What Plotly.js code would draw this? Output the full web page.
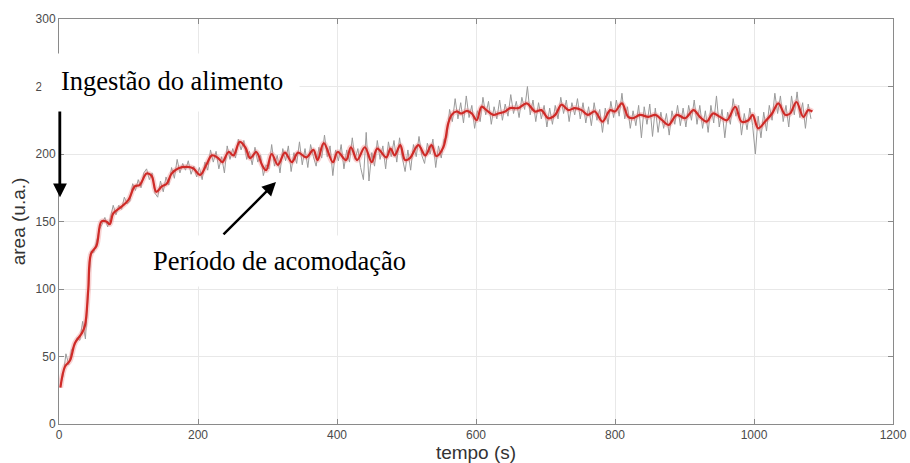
<!DOCTYPE html>
<html>
<head>
<meta charset="utf-8">
<script src="https://cdn.plot.ly/plotly-3.0.1.min.js"></script>
<style>
  html, body { margin: 0; padding: 0; background: #fff; }
  #chart { width: 910px; height: 463px; }
</style>
</head>
<body>
<div id="chart"></div>
<script>
// Raw area signal, one sample every 4 s starting at t = 2 s
const rawStart = 2;
const rawStep = 4;
const rawArea = [
  28, 36, 52, 44, 55, 58, 64, 62, 76, 63, 96, 128, 127, 135, 144, 148, 153, 146, 153, 162, 155, 162, 159, 168, 163,
  165, 178, 173, 181, 175, 186, 189, 181, 186, 171, 168, 180, 172, 183, 177, 190, 182, 196, 186, 193, 188, 195, 185, 191, 183,
  190, 181, 194, 188, 203, 194, 202, 189, 198, 186, 206, 196, 204, 197, 211, 203, 210, 196, 202, 192, 205, 194, 199, 184, 192,
  189, 207, 191, 199, 186, 204, 195, 206, 187, 201, 193, 209, 192, 204, 190, 207, 198, 191, 205, 197, 214, 198, 206, 184, 203,
  195, 207, 189, 203, 194, 212, 196, 204, 190, 181, 216, 180, 201, 191, 210, 196, 206, 189, 209, 198, 210, 194, 212, 197, 187,
  203, 188, 207, 198, 213, 199, 193, 208, 200, 211, 190, 206, 197, 211, 212, 233, 224, 241, 226, 238, 223, 243, 227, 236, 219,
  232, 224, 242, 229, 239, 222, 235, 226, 240, 225, 237, 228, 244, 230, 239, 227, 242, 233, 250, 229, 240, 224, 238, 226, 236,
  220, 234, 222, 236, 226, 242, 230, 240, 224, 238, 229, 241, 226, 238, 223, 235, 221, 238, 225, 233, 216, 234, 222, 239, 227,
  240, 228, 245, 226, 235, 219, 232, 221, 236, 212, 235, 222, 237, 213, 234, 216, 231, 219, 230, 214, 232, 222, 236, 221, 234,
  220, 236, 225, 240, 222, 236, 219, 232, 216, 236, 223, 243, 220, 233, 212, 231, 222, 241, 228, 236, 214, 230, 218, 234, 221,
  200, 228, 212, 231, 217, 236, 225, 245, 230, 243, 224, 236, 220, 243, 229, 246, 227, 238, 219, 237, 226
];

// Filtered (smoothed) area signal
const smoothTime = [
  2, 8.6, 15.8, 23, 32.6, 37.4, 42, 46, 54, 61,
  68, 73, 78, 90, 100, 109, 116, 126, 133, 140,
  148, 155, 162, 172, 184, 193, 203, 212, 220, 229,
  235, 244, 251, 260, 268, 275, 284, 292, 298, 306,
  315, 325, 335, 344, 356, 366, 372, 381, 394, 401,
  413, 420, 429, 440, 450, 458, 471, 477, 483, 491,
  498, 505, 517, 527, 536, 543, 553, 560, 565, 572,
  579, 587, 594, 601, 608, 615, 625, 632, 642, 649,
  661, 673, 685, 694, 704, 714, 723, 733, 742, 752,
  761, 771, 782, 793, 800, 810, 819, 826, 836, 848,
  858, 868, 877, 889, 901, 913, 922, 932, 941, 951,
  961, 973, 982, 992, 998, 1006, 1016, 1026, 1035, 1045,
  1052, 1061, 1071, 1078, 1084
];
const smoothArea = [
  27, 42.5, 47, 60, 67, 73, 99, 126, 132, 150,
  150, 148, 156, 161, 166, 176, 177, 185.5, 184, 172,
  176, 178, 185.5, 189.5, 190.5, 189.5, 184.5, 192, 199, 197,
  194, 201.5, 199, 209, 205, 197, 201.5, 192, 188, 200,
  192, 201, 194, 201, 197.5, 203, 195.5, 208, 194, 201.5,
  195.5, 205, 195.5, 205, 194, 204, 197.5, 204, 199, 206.5,
  195.5, 197, 206.5, 199, 206.5, 198.5, 205, 222.5, 229, 231.5,
  230, 232, 230, 225, 235, 232.5, 229, 230, 231.5, 234,
  234, 237.5, 231.5, 232.5, 226.5, 229, 236.5, 232.5, 234, 232.5,
  229, 231.5, 224, 232.5, 231.5, 237.5, 227.5, 226.5, 229, 227.5,
  229, 225, 221.5, 229, 226.5, 232.5, 227.5, 224, 230, 227.5,
  225, 235, 224, 225, 229, 219, 224, 230, 237.5, 229,
  230, 238.5, 227.5, 232.5, 231.5
];

const xTicks = [0, 200, 400, 600, 800, 1000, 1200];
const yTicks = [0, 50, 100, 150, 200, 250, 300];

const traces = [
  {
    type: 'scatter', mode: 'lines',
    x0: rawStart, dx: rawStep, y: rawArea,
    line: { color: '#9a9a9a', width: 1 },
    hoverinfo: 'skip'
  },
  {
    type: 'scatter', mode: 'lines',
    x: smoothTime, y: smoothArea,
    line: { color: 'rgba(235,130,130,0.35)', width: 5.5, shape: 'spline', smoothing: 1 },
    hoverinfo: 'skip'
  },
  {
    type: 'scatter', mode: 'lines',
    x: smoothTime, y: smoothArea,
    line: { color: '#cf2a27', width: 2.2, shape: 'spline', smoothing: 1 }
  }
];

const axisCommon = {
  showgrid: true,
  gridcolor: '#e8e8e8',
  gridwidth: 1,
  zeroline: false,
  showline: true,
  linecolor: '#8a8a8a',
  linewidth: 1,
  mirror: 'ticks',
  ticks: 'inside',
  ticklen: 5,
  tickcolor: '#8a8a8a',
  tickfont: { family: 'Liberation Sans, Arial, sans-serif', size: 12, color: '#4a4a4a' }
};

const serif = 'Liberation Serif';

const layout = {
  width: 910,
  height: 463,
  margin: { l: 59, r: 17, t: 19, b: 39 },
  paper_bgcolor: '#ffffff',
  plot_bgcolor: '#ffffff',
  showlegend: false,
  xaxis: Object.assign({}, axisCommon, {
    range: [0, 1200],
    tickmode: 'array', tickvals: xTicks, ticktext: xTicks.map(String),
    title: { text: 'tempo (s)', font: { family: 'Liberation Sans, Arial, sans-serif', size: 19, color: '#333' }, standoff: 2 }
  }),
  yaxis: Object.assign({}, axisCommon, {
    range: [0, 300],
    tickmode: 'array', tickvals: yTicks, ticktext: yTicks.map(String),
    title: { text: 'area (u.a.)', font: { family: 'Liberation Sans, Arial, sans-serif', size: 19, color: '#333' }, standoff: 4 }
  }),
  annotations: [
    // arrows
    {
      xref: 'x', yref: 'y', axref: 'x', ayref: 'y',
      x: 1.4, y: 168, ax: 1.4, ay: 233.5,
      text: '', showarrow: true,
      arrowhead: 2, arrowsize: 1.1, arrowwidth: 2.5, arrowcolor: '#000'
    },
    {
      xref: 'x', yref: 'y', axref: 'x', ayref: 'y',
      x: 312.2, y: 179.3, ax: 234.5, ay: 139.3,
      text: '', showarrow: true,
      arrowhead: 2, arrowsize: 1.1, arrowwidth: 2.5, arrowcolor: '#000'
    },
    // white backing behind the first label (covers the axis there)
    {
      xref: 'paper', yref: 'paper',
      x: -0.0216, y: 0.916, xanchor: 'left', yanchor: 'top',
      text: ' ', showarrow: false,
      width: 257, height: 57, borderpad: 0,
      bgcolor: '#ffffff'
    },
    {
      xref: 'paper', yref: 'paper',
      x: 0.0012, y: 0.846, xanchor: 'left', yanchor: 'middle',
      text: 'Ingestão do alimento', showarrow: false,
      borderpad: 0,
      font: { family: serif, size: 26.5, color: '#000' }
    },
    {
      xref: 'x', yref: 'y',
      x: 119.5, y: 120.8, xanchor: 'left', yanchor: 'middle',
      text: 'Período de acomodação', showarrow: false,
      bgcolor: '#ffffff', borderpad: 10,
      font: { family: serif, size: 26.5, color: '#000' }
    }
  ]
};

Plotly.newPlot('chart', traces, layout, { displayModeBar: false, staticPlot: true });
</script>
</body>
</html>
